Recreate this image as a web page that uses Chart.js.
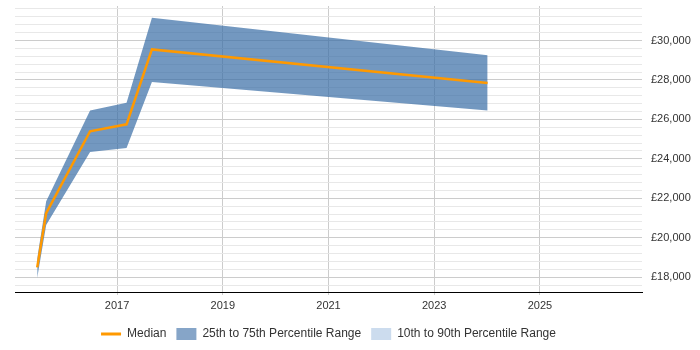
<!DOCTYPE html>
<html><head><meta charset="utf-8">
<script src="https://cdn.jsdelivr.net/npm/chart.js@4.4.1/dist/chart.umd.min.js"></script>
<style>html,body{margin:0;padding:0;background:#fff}#wrap{width:700px;height:350px;position:relative}</style>
</head><body><div id="wrap"><canvas id="c"></canvas></div>
<script>
// Decimal years of each observation
const dates = [2015.49, 2015.66, 2016.49, 2017.18, 2017.66, 2024.01];
const median = [18500, 21250, 25400, 25750, 29550, 27850];
const p25 = [17960, 20650, 24350, 24550, 27900, 26450];
const p75 = [18950, 21850, 26450, 26850, 31150, 29250];
const yearTicks = [2017, 2019, 2021, 2023, 2025];
const legendLabels = ['Median', '25th to 75th Percentile Range', '10th to 90th Percentile Range'];

const pts = arr => arr.map((v, i) => ({x: dates[i], y: v}));
const FONT = '"Liberation Sans", Arial, sans-serif';

const legendCenter = {
  id: 'legendCenter',
  afterLayout(chart) {
    if (chart.legend) {
      chart.legend.left = chart.chartArea.left;
      chart.legend.right = chart.chartArea.right;
    }
  }
};

new Chart(document.getElementById('c'), {
  type: 'line',
  plugins: [legendCenter],
  data: {
    datasets: [
      {label: legendLabels[0], data: pts(median), borderColor: '#ff9900', borderWidth: 2.5, pointRadius: 0, fill: false, tension: 0},
      {label: 'p25', data: pts(p25), borderWidth: 0, borderColor: 'rgba(0,0,0,0)', pointRadius: 0, fill: false, tension: 0},
      {label: legendLabels[1], data: pts(p75), borderWidth: 0, borderColor: 'rgba(0,0,0,0)', pointRadius: 0, fill: '-1', backgroundColor: 'rgba(55,108,165,0.7)', tension: 0}
    ]
  },
  options: {
    responsive: true, maintainAspectRatio: false, animation: false, devicePixelRatio: 1,
    layout: {padding: {left: 15, top: 6, right: 0, bottom: 0}},
    plugins: {
      tooltip: {enabled: false},
      legend: {
        position: 'bottom',
        labels: {
          font: {size: 12, family: FONT}, color: '#333',
          usePointStyle: true, pointStyleWidth: 20, boxHeight: 12, padding: 10,
          generateLabels: () => [
            {text: legendLabels[0], pointStyle: 'line', strokeStyle: '#ff9900', fillStyle: '#ff9900', lineWidth: 3, hidden: false, fontColor: '#333'},
            {text: legendLabels[1], pointStyle: 'rect', strokeStyle: '#86a5c8', fillStyle: '#86a5c8', lineWidth: 0, hidden: false, fontColor: '#333'},
            {text: legendLabels[2], pointStyle: 'rect', strokeStyle: '#ccdcee', fillStyle: '#ccdcee', lineWidth: 0, hidden: false, fontColor: '#333'}
          ]
        }
      }
    },
    scales: {
      x: {
        type: 'linear', min: 2015.07, max: 2026.93,
        afterBuildTicks: s => { s.ticks = yearTicks.map(v => ({value: v})); },
        afterFit: s => { s.height = 26; s.paddingLeft = 0; s.paddingRight = 0; },
        ticks: {callback: v => String(v), font: {size: 11, family: FONT}, color: '#333', padding: 4, autoSkip: false, maxRotation: 0},
        grid: {color: '#cccccc', tickLength: 3, drawTicks: true},
        border: {color: '#000000', width: 1}
      },
      y: {
        position: 'right', min: 17250, max: 31750,
        afterBuildTicks: s => { const t = []; for (let v = 17600; v <= 31600; v += 400) t.push({value: v}); s.ticks = t; },
        afterFit: s => { s.width = 58; s.paddingTop = 0; s.paddingBottom = 0; },
        ticks: {callback: v => (v % 2000 === 0 ? '£' + v.toLocaleString('en-GB') : ''), font: {size: 11, family: FONT}, color: '#333', padding: 9, autoSkip: false},
        grid: {color: c => (c.tick && c.tick.value % 2000 === 0 ? '#cccccc' : '#e8e8e8'), drawTicks: false},
        border: {display: false}
      }
    }
  }
});
</script></body></html>
